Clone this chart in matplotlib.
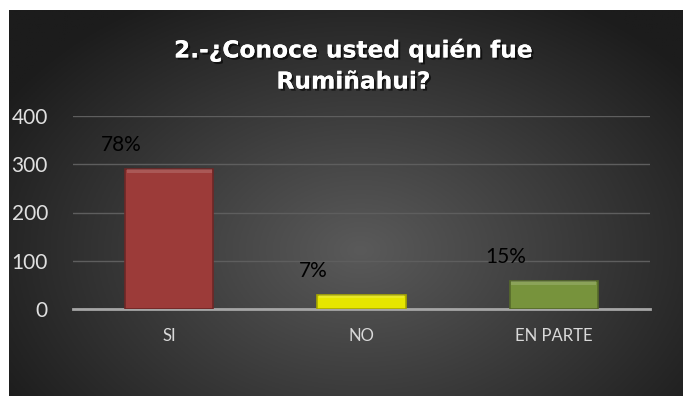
import numpy as np
import matplotlib
matplotlib.use("Agg")
import matplotlib.pyplot as plt
import matplotlib.patheffects as pe

categories = ["SI", "NO", "EN PARTE"]
values = [290, 28, 57]
pct_labels = ["78%", "7%", "15%"]
bar_colors = ["#9c3b39", "#e6e600", "#77933c"]
edge_colors = ["#6e2726", "#a8a800", "#56692b"]
yticks = [0, 100, 200, 300, 400]
title = "2.-¿Conoce usted quién fue\nRumiñahui?"

W, H = 686, 405
fig = plt.figure(figsize=(W / 100, H / 100), dpi=100)
fig.patch.set_facecolor("white")

# background panel with radial gradient
bx0, by0, bx1, by1 = 9, 10, 683, 396
bg = fig.add_axes([bx0 / W, 1 - by1 / H, (bx1 - bx0) / W, (by1 - by0) / H])
bg.set_axis_off()
ny, nx = 200, 340
yy, xx = np.mgrid[0:ny, 0:nx]
cx, cy = nx * 0.52, ny * 0.62
r = np.sqrt(((xx - cx) / (nx * 0.62)) ** 2 + ((yy - cy) / (ny * 0.75)) ** 2)
r = np.clip(r, 0, 1)
light = np.array([0x5a, 0x5a, 0x5a]) / 255
dark = np.array([0x1c, 0x1c, 0x1c]) / 255
img = light[None, None, :] * (1 - r[..., None]) + dark[None, None, :] * r[..., None]
bg.imshow(img, aspect="auto", extent=[0, 1, 0, 1])
bg.set_xlim(0, 1)
bg.set_ylim(0, 1)

# plot axes
ax0, ax1 = 73, 650
ay0, ay1 = 116, 309
ax = fig.add_axes([ax0 / W, 1 - ay1 / H, (ax1 - ax0) / W, (ay1 - ay0) / H])
ax.patch.set_alpha(0)
x = np.arange(len(categories))
ax.set_xlim(-0.5, len(categories) - 0.5)
ax.set_ylim(0, 400)
ax.set_yticks(yticks)
ax.set_yticklabels([str(t) for t in yticks])
ax.grid(axis="y", color="#5e5e5e", linewidth=1.0)
ax.set_axisbelow(True)
for s in ["top", "right", "left"]:
    ax.spines[s].set_visible(False)
ax.spines["bottom"].set_color("#a6a6a6")
ax.spines["bottom"].set_linewidth(2)
ax.tick_params(axis="both", length=0)
ax.tick_params(axis="y", labelcolor="#e0e0e0", labelsize=15, pad=18)
ax.tick_params(axis="x", labelcolor="#d9d9d9", labelsize=12, pad=14)
ax.set_xticks(x)
ax.set_xticklabels(categories)
for lbl in ax.get_xticklabels() + ax.get_yticklabels():
    lbl.set_fontfamily("Lato")

bw = 0.46
bars = ax.bar(x, values, width=bw, color=bar_colors, edgecolor=edge_colors,
              linewidth=1.2, zorder=3)
# subtle bevel highlight on top
hl = [min(8, v * 0.15) for v in values]
ax.bar(x, hl, bottom=[v - h for v, h in zip(values, hl)],
       width=bw * 0.96, color="white", alpha=0.15, linewidth=0, zorder=4)

for xi, v, p in zip(x, values, pct_labels):
    ax.text(xi - bw / 2 - 0.02, v + 50, p, ha="center", va="center",
            fontsize=15, color="black", fontfamily="Lato", zorder=5)

fig.text(354 / W, 1 - 66 / H, title, ha="center", va="center",
         fontsize=16.8, fontweight="bold", color="white", fontfamily="DejaVu Sans",
         linespacing=1.45,
         path_effects=[pe.withSimplePatchShadow(offset=(1.5, -1.5), shadow_rgbFace="black", alpha=0.6),
                       pe.Normal()])

fig.savefig("out.png", dpi=100, facecolor=fig.get_facecolor())
